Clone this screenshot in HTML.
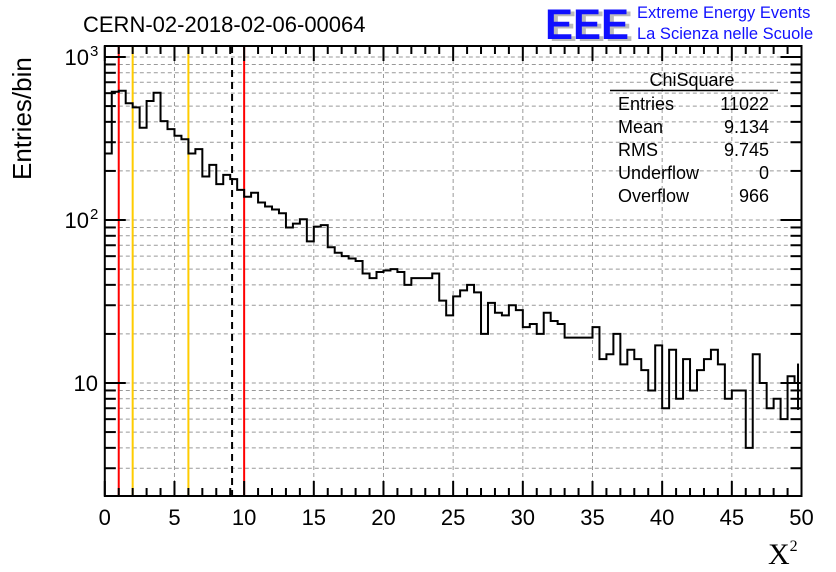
<!DOCTYPE html>
<html><head><meta charset="utf-8"><style>
html,body{margin:0;padding:0;background:#fff;}
svg{display:block;font-family:"Liberation Sans",sans-serif;}
</style></head><body>
<svg id="chart" width="836" height="572" viewBox="0 0 836 572">
<rect x="0" y="0" width="836" height="572" fill="#fff"/>
<g id="grid"></g>
<g id="markers"></g>
<path id="hist" fill="none" stroke="#000" stroke-width="2"/>
<g id="axes"></g>
<text x="83" y="32" font-size="22" fill="#000">CERN-02-2018-02-06-00064</text>
<g>
<text x="549" y="41" font-size="43" font-weight="bold" fill="#bbb" textLength="84" lengthAdjust="spacingAndGlyphs">EEE</text>
<text x="545" y="39" font-size="43" font-weight="bold" fill="#1010ff" textLength="84" lengthAdjust="spacingAndGlyphs">EEE</text>
<text x="637" y="18" font-size="16.5" fill="#1010ff">Extreme Energy Events</text>
<text x="637" y="39" font-size="16.5" fill="#1010ff">La Scienza nelle Scuole</text>
</g>
<g font-size="18" fill="#000">
<text x="692" y="86" text-anchor="middle">ChiSquare</text>
<line x1="610" y1="90.5" x2="778" y2="90.5" stroke="#000" stroke-width="1.5"/>
<text x="618" y="110">Entries</text>
<text x="769" y="110" text-anchor="end">11022</text>
<text x="618" y="133">Mean</text>
<text x="769" y="133" text-anchor="end">9.134</text>
<text x="618" y="156">RMS</text>
<text x="769" y="156" text-anchor="end">9.745</text>
<text x="618" y="179">Underflow</text>
<text x="769" y="179" text-anchor="end">0</text>
<text x="618" y="202">Overflow</text>
<text x="769" y="202" text-anchor="end">966</text>
</g>
<text transform="translate(31,180) rotate(-90)" font-size="26" fill="#000">Entries/bin</text>
<text x="768" y="564" font-family="Liberation Serif,serif" font-size="30" fill="#000">X<tspan font-size="16" dy="-13">2</tspan></text>
</svg>
<script>
const binWidth = 0.5;
const counts = [256,612,621,520,491,368,537,604,404,361,329,313,256,272,185,218,166,189,178,153,
139,147,128,121,116,110,90,95,101,74,91,93,68,63,60,58,56,47,44,48,
49,50,48,40,44,44,44,47,32,26,34,37,40,36,20,31,27,26,30,28,
22,23,20,27,24,23,19,19,19,19,22,14,15,20,13,16,14,12,9,17,
7,16,8,14,9,12,14,16,13,8,9,9,4,15,10,7,8,6,11,10];
const xTicks = [0,5,10,15,20,25,30,35,40,45,50];
const yDecades = [1,2,3];
const redLines = [1,10];
const orangeLines = [2,6];
const meanLine = [9.134];

const NS="http://www.w3.org/2000/svg";
const L=104.8,R=801.5,T=46,B=496;
const X0=0,X1=50;
function xs(v){return L+(v-X0)/(X1-X0)*(R-L);}
function ys(v){return 383-163*Math.log10(v/10);}
function mk(parent,tag,attrs){const e=document.createElementNS(NS,tag);for(const k in attrs)e.setAttribute(k,attrs[k]);parent.appendChild(e);return e;}
const grid=document.getElementById('grid'),axes=document.getElementById('axes'),markers=document.getElementById('markers');

xTicks.forEach(t=>{if(t===X0||t===X1)return;
 const l=mk(grid,'line',{x1:xs(t),x2:xs(t),y1:T,y2:B,stroke:'#999','stroke-width':1,'stroke-dasharray':'4,3'});
 
 });
for(let d=0;d<=3;d++){for(let m=1;m<=9;m++){const v=m*Math.pow(10,d);const y=ys(v);if(y<T+1||y>B-1)continue;
 const l=mk(grid,'line',{x1:L,x2:R,y1:y,y2:y,stroke:'#999','stroke-width':1,'stroke-dasharray':'4,3'});
 
 }}

redLines.forEach(v=>{const l=mk(markers,'line',{x1:xs(v),x2:xs(v),y1:T,y2:B,stroke:'#ff0000','stroke-width':2});
 
 });
orangeLines.forEach(v=>{const l=mk(markers,'line',{x1:xs(v),x2:xs(v),y1:T,y2:B,stroke:'#ffcc00','stroke-width':2});
 
 });
meanLine.forEach(v=>{const l=mk(markers,'line',{x1:xs(v),x2:xs(v),y1:T,y2:B,stroke:'#000','stroke-width':2,'stroke-dasharray':'7,5'});
 
 });

let d='';
counts.forEach((c,i)=>{const xa=xs(i*binWidth),xb=xs((i+1)*binWidth),y=ys(Math.max(c,1));
 d+=(i===0?'M'+xa+' '+y:'V'+y)+'H'+xb;});
document.getElementById('hist').setAttribute('d',d);
{const i=counts.length-1,c=counts[i],xc=xs((i+0.5)*binWidth);
 const e=mk(markers,'line',{x1:xc,x2:xc,y1:ys(c+Math.sqrt(c)),y2:ys(Math.max(c-Math.sqrt(c),1)),stroke:'#000','stroke-width':2});
 
 }

const fr=mk(axes,'rect',{x:L,y:T,width:R-L,height:B-T,fill:'none',stroke:'#000','stroke-width':2});


for(let v=X0;v<=X1;v+=1){const maj=v%5===0;const len=maj?15:8;const x=xs(v);
 mk(axes,'line',{x1:x,x2:x,y1:B,y2:B-len,stroke:'#000','stroke-width':2});
 mk(axes,'line',{x1:x,x2:x,y1:T,y2:T+len,stroke:'#000','stroke-width':2});}
xTicks.forEach(t=>{const tx=mk(axes,'text',{x:xs(t),y:525,'text-anchor':'middle','font-size':22,fill:'#000'});tx.textContent=t;
 
 });
for(let dd=0;dd<=3;dd++){for(let m=1;m<=9;m++){const v=m*Math.pow(10,dd);const y=ys(v);if(y<T||y>B)continue;const len=m===1?21:11;
 mk(axes,'line',{x1:L,x2:L+len,y1:y,y2:y,stroke:'#000','stroke-width':2});
 mk(axes,'line',{x1:R,x2:R-len,y1:y,y2:y,stroke:'#000','stroke-width':2});}}
yDecades.forEach(p=>{const y=ys(Math.pow(10,p));
 const tx=mk(axes,'text',{x:p===1?98:89,y:y+8,'text-anchor':'end','font-size':22,fill:'#000'});
 tx.textContent='10';
 
 
 if(p!==1){const s=mk(axes,'text',{x:90,y:y-1,'font-size':15,fill:'#000'});s.textContent=p;
  
  }});
</script>
</body></html>
